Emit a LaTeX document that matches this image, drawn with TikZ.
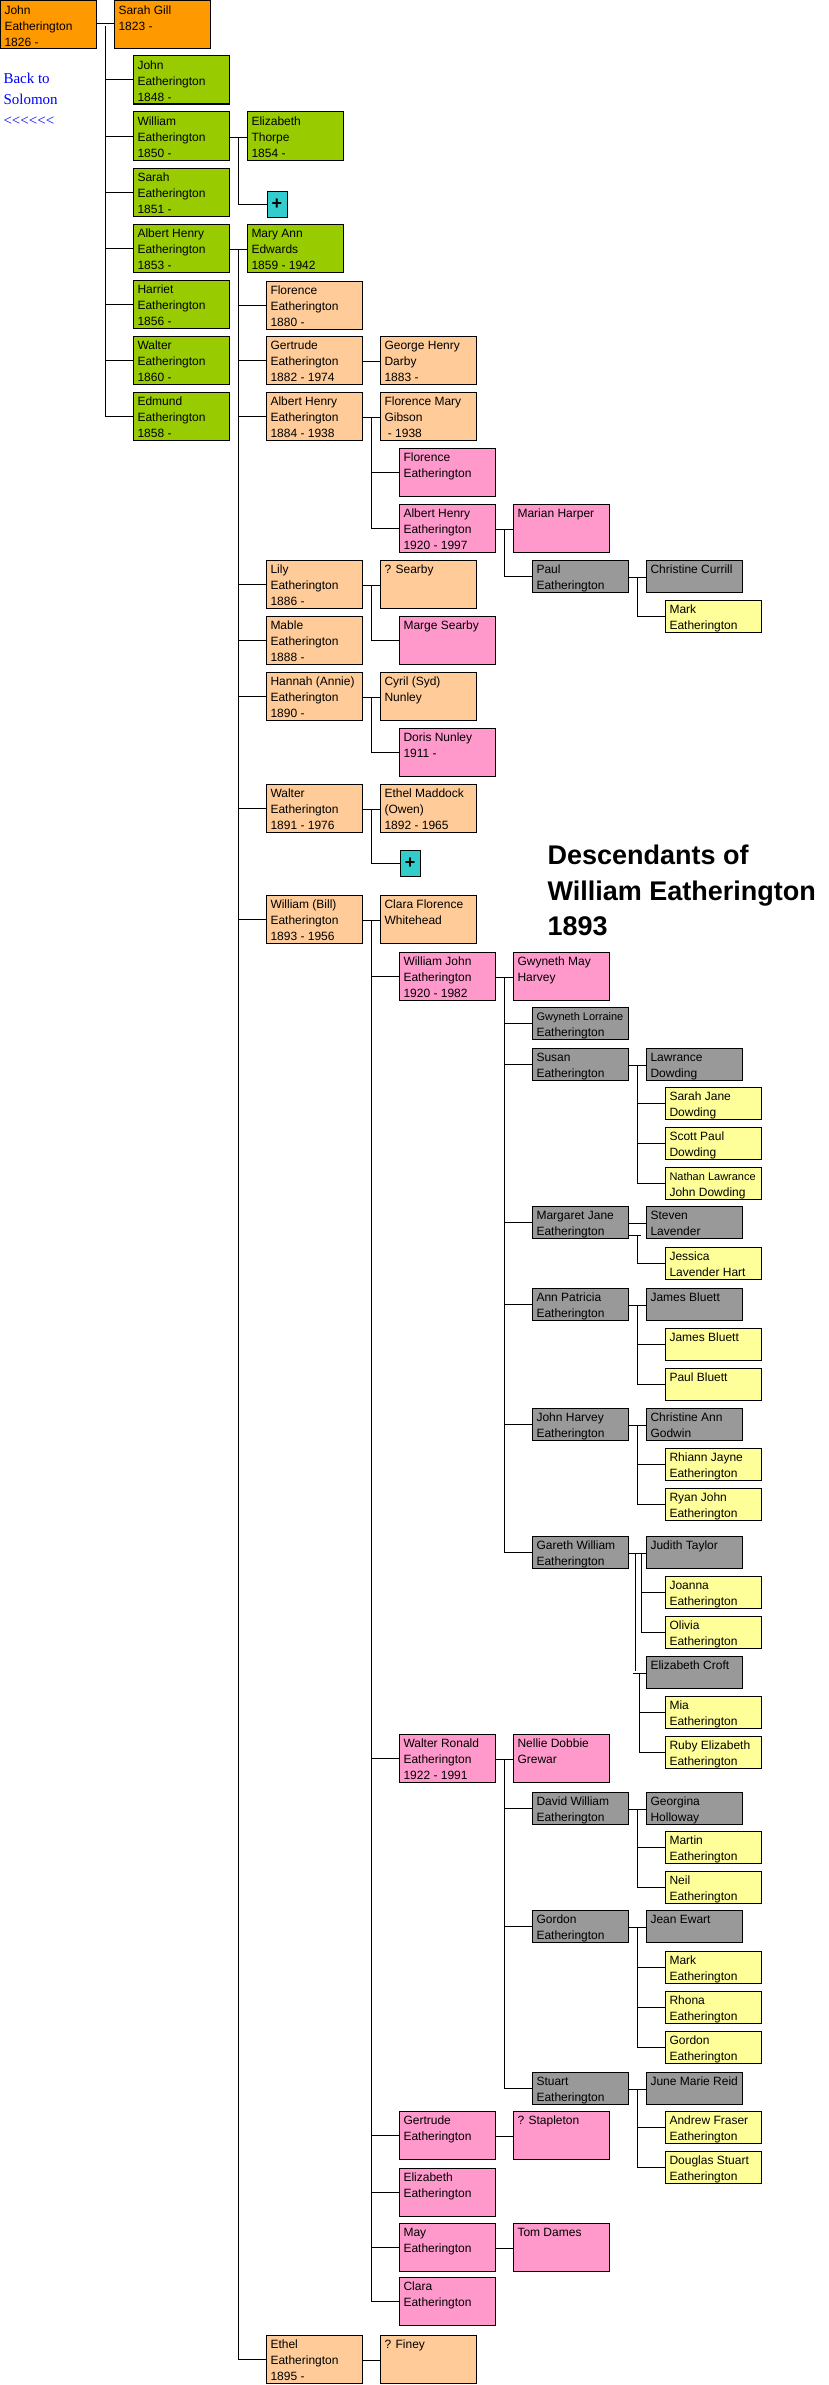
\documentclass[tikz,border=0pt]{standalone}
\usepackage{fontspec}
\setmainfont{Liberation Sans}
\newfontfamily\backfont{Liberation Serif}
\definecolor{orangebox}{HTML}{FF9900}
\definecolor{greenbox}{HTML}{99CC00}
\definecolor{peachbox}{HTML}{FFCC99}
\definecolor{pinkbox}{HTML}{FF99CC}
\definecolor{greybox}{HTML}{999999}
\definecolor{yellowbox}{HTML}{FFFF99}
\definecolor{plusbox}{HTML}{33CCCC}
\newcommand\fambox[5]{%
	\node[box,#4] (#1) at (#2,#3) {};
	\node[who] (#1-t) at ([xshift=4bp]#1.north west) {\rule{0pt}{13bp}#5};}

\begin{document}
\begin{tikzpicture}[x=1bp,y=-1bp,line width=1bp,
		box/.style={draw,anchor=north west,minimum width=96bp,minimum height=48bp,inner sep=0pt,outer sep=0pt},
		gen0/.style={fill=orangebox},
		gen1/.style={fill=greenbox},
		gen2/.style={fill=peachbox},
		gen3/.style={fill=pinkbox},
		gen4/.style={fill=greybox,minimum height=32bp},
		gen5/.style={fill=yellowbox,minimum height=32bp},
		who/.style={anchor=north west,inner sep=0pt,align=left,font=\fontsize{12bp}{16bp}\selectfont},
		couple/.style={double,double distance=1.2bp,line width=0.9bp,shorten <=0.5bp,shorten >=0.5bp},
		plus/.style={draw,fill=plusbox,anchor=north west,minimum width=20bp,minimum height=26bp,inner sep=0pt,outer sep=0pt,font=\fontsize{18bp}{18bp}\selectfont\bfseries}]
		\path[use as bounding box,fill=white] (0,0) rectangle (828,2385);

		\node[anchor=north west,inner sep=0pt,align=left,text=blue,font=\backfont\fontsize{15bp}{21bp}\selectfont] (back) at (3,70) {\rule{0pt}{13bp}Back to\\Solomon\\<<<<<<};
		\node[anchor=north west,inner sep=0pt,align=left,font=\fontsize{27bp}{35.5bp}\selectfont\bfseries] (title) at (547,844) {\rule{0pt}{20bp}Descendants of\\William Eatherington\\1893};

		\fambox{john}{0}{1}{gen0}{John\\Eatherington\\1826 -}
		\fambox{sarah}{114}{1}{gen0}{Sarah Gill\\1823 -}
		\fambox{john2}{133}{56}{gen1}{John\\Eatherington\\1848 -}
		\fambox{william}{133}{112}{gen1}{William\\Eatherington\\1850 -}
		\fambox{thorpe}{247}{112}{gen1}{Elizabeth\\Thorpe\\1854 -}
		\node[plus] (plus1) at (267,191) {+};
		\fambox{sarah2}{133}{168}{gen1}{Sarah\\Eatherington\\1851 -}
		\fambox{albert}{133}{224}{gen1}{Albert Henry\\Eatherington\\1853 -}
		\fambox{edwards}{247}{224}{gen1}{Mary Ann\\Edwards\\1859 - 1942}
		\fambox{harriet}{133}{280}{gen1}{Harriet\\Eatherington\\1856 -}
		\fambox{walter}{133}{336}{gen1}{Walter\\Eatherington\\1860 -}
		\fambox{edmund}{133}{392}{gen1}{Edmund\\Eatherington\\1858 -}

		\fambox{florence}{266}{281}{gen2}{Florence\\Eatherington\\1880 -}
		\fambox{gertrude}{266}{336}{gen2}{Gertrude\\Eatherington\\1882 - 1974}
		\fambox{darby}{380}{336}{gen2}{George Henry\\Darby\\1883 -}
		\fambox{albert2}{266}{392}{gen2}{Albert Henry\\Eatherington\\1884 - 1938}
		\fambox{gibson}{380}{392}{gen2}{Florence Mary\\Gibson\\\ - 1938}
		\fambox{florence2}{399}{448}{gen3}{Florence\\Eatherington}
		\fambox{albert3}{399}{504}{gen3}{Albert Henry\\Eatherington\\1920 - 1997}
		\fambox{harper}{513}{504}{gen3}{Marian Harper}
		\fambox{paul}{532}{560}{gen4}{Paul\\Eatherington}
		\fambox{currill}{646}{560}{gen4}{Christine Currill}
		\fambox{mark}{665}{600}{gen5}{Mark\\Eatherington}
		\fambox{lily}{266}{560}{gen2}{Lily\\Eatherington\\1886 -}
		\fambox{searby}{380}{560}{gen2}{? Searby}
		\fambox{marge}{399}{616}{gen3}{Marge Searby}
		\fambox{mable}{266}{616}{gen2}{Mable\\Eatherington\\1888 -}
		\fambox{hannah}{266}{672}{gen2}{Hannah (Annie)\\Eatherington\\1890 -}
		\fambox{nunley}{380}{672}{gen2}{Cyril (Syd)\\Nunley}
		\fambox{doris}{399}{728}{gen3}{Doris Nunley\\1911 -}
		\fambox{walter2}{266}{784}{gen2}{Walter\\Eatherington\\1891 - 1976}
		\fambox{maddock}{380}{784}{gen2}{Ethel Maddock\\(Owen)\\1892 - 1965}
		\node[plus] (plus2) at (400,850) {+};
		\fambox{bill}{266}{895}{gen2}{William (Bill)\\Eatherington\\1893 - 1956}
		\fambox{whitehead}{380}{895}{gen2}{Clara Florence\\Whitehead}

		\fambox{wjohn}{399}{952}{gen3}{William John\\Eatherington\\1920 - 1982}
		\fambox{harvey}{513}{952}{gen3}{Gwyneth May\\Harvey}
		\fambox{lorraine}{532}{1007}{gen4}{{\fontsize{11bp}{16bp}\selectfont Gwyneth Lorraine}\\Eatherington}
		\fambox{susan}{532}{1048}{gen4}{Susan\\Eatherington}
		\fambox{dowding}{646}{1048}{gen4}{Lawrance\\Dowding}
		\fambox{sarahj}{665}{1087}{gen5}{Sarah Jane\\Dowding}
		\fambox{scott}{665}{1127}{gen5}{Scott Paul\\Dowding}
		\fambox{nathan}{665}{1167}{gen5}{{\fontsize{11bp}{16bp}\selectfont Nathan Lawrance}\\John Dowding}
		\fambox{margaret}{532}{1206}{gen4}{Margaret Jane\\Eatherington}
		\fambox{lavender}{646}{1206}{gen4}{Steven\\Lavender}
		\fambox{jessica}{665}{1247}{gen5}{Jessica\\Lavender Hart}
		\fambox{ann}{532}{1288}{gen4}{Ann Patricia\\Eatherington}
		\fambox{bluett}{646}{1288}{gen4}{James Bluett}
		\fambox{jamesb}{665}{1328}{gen5}{James Bluett}
		\fambox{paulb}{665}{1368}{gen5}{Paul Bluett}
		\fambox{jharvey}{532}{1408}{gen4}{John Harvey\\Eatherington}
		\fambox{godwin}{646}{1408}{gen4}{Christine Ann\\Godwin}
		\fambox{rhiann}{665}{1448}{gen5}{Rhiann Jayne\\Eatherington}
		\fambox{ryan}{665}{1488}{gen5}{Ryan John\\Eatherington}
		\fambox{gareth}{532}{1536}{gen4}{Gareth William\\Eatherington}
		\fambox{taylor}{646}{1536}{gen4}{Judith Taylor}
		\fambox{joanna}{665}{1576}{gen5}{Joanna\\Eatherington}
		\fambox{olivia}{665}{1616}{gen5}{Olivia\\Eatherington}
		\fambox{croft}{646}{1656}{gen4}{Elizabeth Croft}
		\fambox{mia}{665}{1696}{gen5}{Mia\\Eatherington}
		\fambox{ruby}{665}{1736}{gen5}{Ruby Elizabeth\\Eatherington}

		\fambox{wronald}{399}{1734}{gen3}{Walter Ronald\\Eatherington\\1922 - 1991}
		\fambox{grewar}{513}{1734}{gen3}{Nellie Dobbie\\Grewar}
		\fambox{david}{532}{1792}{gen4}{David William\\Eatherington}
		\fambox{holloway}{646}{1792}{gen4}{Georgina\\Holloway}
		\fambox{martin}{665}{1831}{gen5}{Martin\\Eatherington}
		\fambox{neil}{665}{1871}{gen5}{Neil\\Eatherington}
		\fambox{gordon}{532}{1910}{gen4}{Gordon\\Eatherington}
		\fambox{ewart}{646}{1910}{gen4}{Jean Ewart}
		\fambox{mark2}{665}{1951}{gen5}{Mark\\Eatherington}
		\fambox{rhona}{665}{1991}{gen5}{Rhona\\Eatherington}
		\fambox{gordon2}{665}{2031}{gen5}{Gordon\\Eatherington}
		\fambox{stuart}{532}{2072}{gen4}{Stuart\\Eatherington}
		\fambox{reid}{646}{2072}{gen4}{June Marie Reid}
		\fambox{andrew}{665}{2111}{gen5}{Andrew Fraser\\Eatherington}
		\fambox{douglas}{665}{2151}{gen5}{Douglas Stuart\\Eatherington}
		\fambox{gertrude2}{399}{2111}{gen3}{Gertrude\\Eatherington}
		\fambox{stapleton}{513}{2111}{gen3}{? Stapleton}
		\fambox{elizabeth}{399}{2168}{gen3}{Elizabeth\\Eatherington}
		\fambox{may}{399}{2223}{gen3}{May\\Eatherington}
		\fambox{dames}{513}{2223}{gen3}{Tom Dames}
		\fambox{clara}{399}{2277}{gen3}{Clara\\Eatherington}
		\fambox{ethel}{266}{2335}{gen2}{Ethel\\Eatherington\\1895 -}
		\fambox{finey}{380}{2335}{gen2}{? Finey}

		\foreach \kid in {john2,william,sarah2,albert,harriet,walter,edmund}
			\draw ([xshift=9bp]john.east) |- (\kid.west);
		\draw ([xshift=9bp]william.east) |- (plus1.west);
		\foreach \kid in {florence,gertrude,albert2,lily,mable,hannah,walter2,bill,ethel}
			\draw ([xshift=9bp]albert.east) |- (\kid.west);
		\foreach \kid in {florence2,albert3}
			\draw ([xshift=9bp]albert2.east) |- (\kid.west);
		\draw ([xshift=9bp]albert3.east) |- (paul.west);
		\draw ([xshift=9bp]paul.east) |- (mark.west);
		\draw ([xshift=9bp]lily.east) |- (marge.west);
		\draw ([xshift=9bp]hannah.east) |- (doris.west);
		\draw ([xshift=9bp]walter2.east) |- (plus2.west);
		\foreach \kid in {wjohn,wronald,gertrude2,elizabeth,may,clara}
			\draw ([xshift=9bp]bill.east) |- (\kid.west);
		\foreach \kid in {lorraine,susan,margaret,ann,jharvey,gareth}
			\draw ([xshift=9bp]wjohn.east) |- (\kid.west);
		\foreach \kid in {sarahj,scott,nathan}
			\draw ([xshift=9bp]susan.east) |- (\kid.west);
		\draw ([shift={(9,12)}]margaret.east) |- (jessica.west);
		\foreach \kid in {jamesb,paulb}
			\draw ([xshift=9bp]ann.east) |- (\kid.west);
		\foreach \kid in {rhiann,ryan}
			\draw ([xshift=9bp]jharvey.east) |- (\kid.west);
		\foreach \kid in {joanna,olivia}
			\draw ([xshift=13bp]gareth.east) |- (\kid.west);
		\foreach \kid in {mia,ruby}
			\draw ([xshift=-7bp]croft.west) |- (\kid.west);
		\foreach \kid in {david,gordon,stuart}
			\draw ([xshift=9bp]wronald.east) |- (\kid.west);
		\foreach \kid in {martin,neil}
			\draw ([xshift=9bp]david.east) |- (\kid.west);
		\foreach \kid in {mark2,rhona,gordon2}
			\draw ([xshift=9bp]gordon.east) |- (\kid.west);
		\foreach \kid in {andrew,douglas}
			\draw ([xshift=9bp]stuart.east) |- (\kid.west);

		\draw[couple] ([xshift=6bp]gareth.east) |- (croft.west);
		\draw[couple] ([yshift=-12bp]margaret.east) -- ++(13,0);
		\foreach \a/\b in {john/sarah,william/thorpe,albert/edwards,gertrude/darby,albert2/gibson,albert3/harper,paul/currill,lily/searby,hannah/nunley,walter2/maddock,bill/whitehead,wjohn/harvey,susan/dowding,margaret/lavender,ann/bluett,jharvey/godwin,gareth/taylor,wronald/grewar,david/holloway,gordon/ewart,stuart/reid,gertrude2/stapleton,may/dames,ethel/finey}
			\draw[couple] (\a.east) -- (\b.west);
	\end{tikzpicture}
\end{document}
